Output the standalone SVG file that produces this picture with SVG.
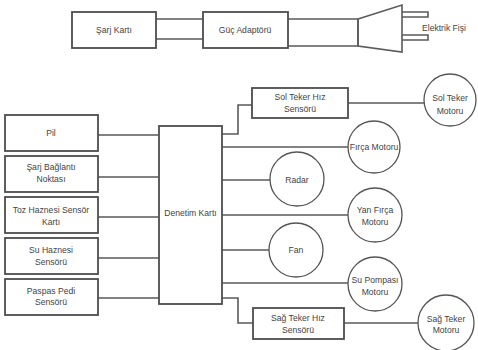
<svg xmlns="http://www.w3.org/2000/svg" width="478" height="350" viewBox="0 0 478 350">
<style>
.box{fill:#fff;stroke:#4d4d4d;stroke-width:1.8}
.circ{fill:#fff;stroke:#555;stroke-width:1.3}
.ln{fill:none;stroke:#5a5a5a;stroke-width:1.6}
.t{font-family:"Liberation Sans",Arial,sans-serif;font-size:8.6px;fill:#444;text-anchor:middle}
</style>
<rect width="478" height="350" fill="#fff"/>
<g id="connectors">
<path class="ln" d="M156 19H203M156 39H203"/>
<path class="ln" d="M288 19H358M288 46H358V19"/>
<path class="ln" d="M98 135H159M98 177H159M98 217H159M98 258H159M98 298H159"/>
<path class="ln" d="M222 134H238V105H252"/>
<path class="ln" d="M348 103H425"/>
<path class="ln" d="M222 147H348"/>
<path class="ln" d="M222 180H270"/>
<path class="ln" d="M222 215H348"/>
<path class="ln" d="M222 250H269"/>
<path class="ln" d="M222 283H348"/>
<path class="ln" d="M222 298H238V323H253"/>
<path class="ln" d="M344 323H418"/>
</g>
<g id="sarj-karti"><rect class="box" x="72" y="12" width="84" height="36"/><text class="t" x="114" y="33">Şarj Kartı</text></g>
<g id="guc-adaptoru"><rect class="box" x="203" y="12" width="85" height="36"/><text class="t" x="245" y="33">Güç Adaptörü</text></g>
<g id="elektrik-fisi">
<path class="ln" d="M358 19L402 5V52L358 46Z" stroke-width="1.3"/>
<path class="ln" d="M402 12H428V17H402M402 35H428V40H402" stroke-width="1.3"/>
<text class="t" x="422" y="31" style="text-anchor:start">Elektrik Fişi</text>
</g>
<g id="pil"><rect class="box" x="5" y="115" width="93" height="36"/><text class="t" x="51" y="136">Pil</text></g>
<g id="sarj-baglanti"><rect class="box" x="5" y="156" width="93" height="36"/><text class="t" x="51" y="170">Şarj Bağlantı</text><text class="t" x="51" y="182">Noktası</text></g>
<g id="toz-haznesi"><rect class="box" x="5" y="197" width="93" height="36"/><text class="t" x="51" y="213">Toz Haznesi Sensör</text><text class="t" x="51" y="225">Kartı</text></g>
<g id="su-haznesi"><rect class="box" x="5" y="238" width="93" height="36"/><text class="t" x="51" y="253">Su Haznesi</text><text class="t" x="51" y="265">Sensörü</text></g>
<g id="paspas-pedi"><rect class="box" x="5" y="279" width="93" height="36"/><text class="t" x="51" y="294">Paspas Pedi</text><text class="t" x="51" y="305">Sensörü</text></g>
<g id="denetim-karti"><rect class="box" x="159" y="126" width="63" height="178" stroke="#666"/><text class="t" x="190.5" y="216">Denetim Kartı</text></g>
<g id="sol-teker-sensor"><rect class="box" x="252" y="88" width="96" height="30"/><text class="t" x="300" y="100">Sol Teker Hız</text><text class="t" x="300" y="112">Sensörü</text></g>
<g id="sol-teker-motor"><circle class="circ" cx="450" cy="100" r="26"/><text class="t" x="450" y="101">Sol Teker</text><text class="t" x="450" y="114">Motoru</text></g>
<g id="firca-motoru"><circle class="circ" cx="374" cy="147" r="26"/><text class="t" x="374" y="150">Fırça Motoru</text></g>
<g id="radar"><circle class="circ" cx="297" cy="179" r="27"/><text class="t" x="297" y="183">Radar</text></g>
<g id="yan-firca"><circle class="circ" cx="375" cy="215" r="27"/><text class="t" x="375" y="213">Yan Fırça</text><text class="t" x="375" y="225">Motoru</text></g>
<g id="fan"><circle class="circ" cx="296" cy="250" r="27"/><text class="t" x="296" y="253">Fan</text></g>
<g id="su-pompasi"><circle class="circ" cx="375" cy="284" r="27"/><text class="t" x="375" y="283">Su Pompası</text><text class="t" x="375" y="295">Motoru</text></g>
<g id="sag-teker-sensor"><rect class="box" x="253" y="308" width="91" height="31"/><text class="t" x="298" y="321">Sağ Teker Hız</text><text class="t" x="298" y="333">Sensörü</text></g>
<g id="sag-teker-motor"><circle class="circ" cx="446" cy="323" r="28"/><text class="t" x="446" y="322">Sağ Teker</text><text class="t" x="446" y="333">Motoru</text></g>
</svg>
